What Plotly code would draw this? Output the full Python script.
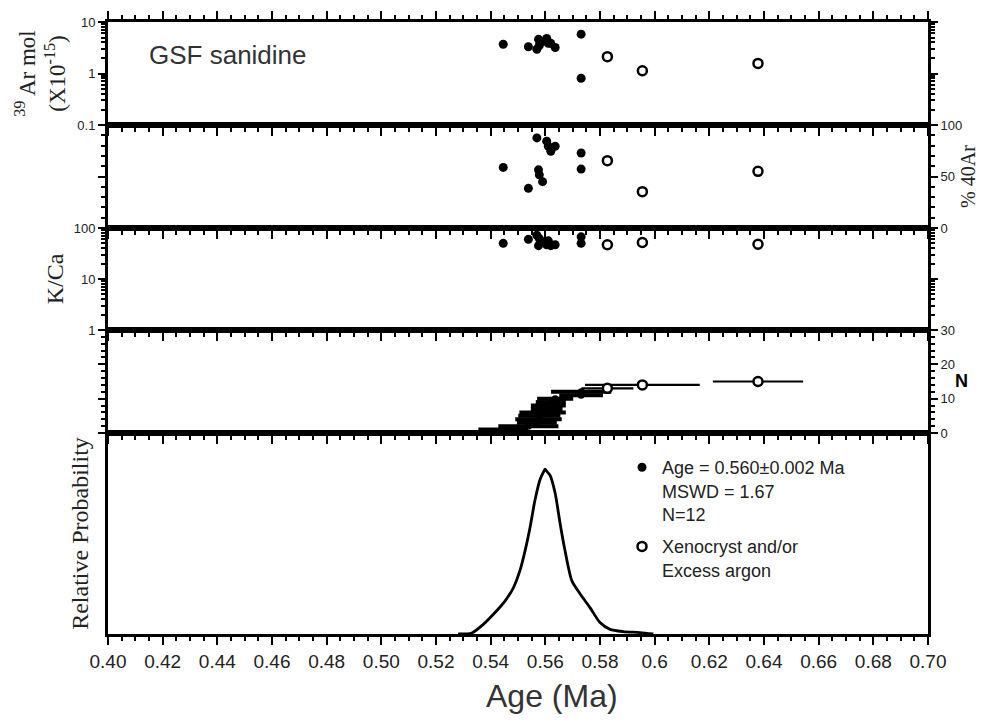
import plotly.graph_objects as go

# ---------------- data ----------------
# filled symbols: analyses used in the weighted-mean age (N=12)
ages_filled = [0.5446, 0.5538, 0.5569, 0.5575, 0.5578, 0.5590, 0.5605, 0.5611, 0.5620, 0.5636, 0.5731, 0.5731]
ar39_filled = [3.7, 3.3, 2.95, 4.6, 3.5, 4.15, 4.8, 3.85, 3.85, 3.2, 5.8, 0.81]
pct40_filled = [58.8, 38.5, 87.5, 56.5, 51.6, 45.0, 84.3, 79.4, 74.5, 79.4, 72.8, 57.2]
kca_filled = [50, 60, 72, 45, 62, 54, 47, 56, 45, 47, 67, 50]
err_filled = [0.0091, 0.0110, 0.0073, 0.0085, 0.0077, 0.0085, 0.0058, 0.0064, 0.0055, 0.0066, 0.0080, 0.0110]
rank_filled = [1, 2, 3, 4, 5, 6, 7, 8, 9, 10, 11, 12]

# open symbols: xenocrysts and/or excess argon
ages_open = [0.5827, 0.5955, 0.6378]
ar39_open = [2.12, 1.13, 1.57]
pct40_open = [65.4, 35.3, 55.0]
kca_open = [47, 52, 48]
err_open = [0.0095, 0.0210, 0.0165]
rank_open = [13, 14, 15]

# relative probability curve
prob_age = [0.5281, 0.5331, 0.5373, 0.5410, 0.5453, 0.5483, 0.5507, 0.5526, 0.5544, 0.5562,
            0.5581, 0.5593, 0.5599, 0.5605, 0.5617, 0.5636, 0.5654, 0.5672, 0.5697, 0.5727,
            0.5764, 0.5800, 0.5837, 0.5885, 0.5946, 0.5995]
prob_val = [0.0, 0.005, 0.048, 0.098, 0.165, 0.23, 0.315, 0.415, 0.53, 0.665,
            0.77, 0.805, 0.82, 0.81, 0.79, 0.70, 0.55, 0.415, 0.265, 0.20,
            0.13, 0.057, 0.023, 0.012, 0.007, 0.0]

x_tickvals = [0.40, 0.42, 0.44, 0.46, 0.48, 0.50, 0.52, 0.54, 0.56, 0.58, 0.60, 0.62, 0.64, 0.66, 0.68, 0.70]
x_ticktext = ["0.40", "0.42", "0.44", "0.46", "0.48", "0.50", "0.52", "0.54", "0.56", "0.58", "0.6",
              "0.62", "0.64", "0.66", "0.68", "0.70"]

legend_filled = "Age = 0.560±0.002 Ma<br>MSWD = 1.67<br>N=12"
legend_open = "Xenocryst and/or<br>Excess argon"

# ---------------- layout helpers ----------------
# page body adds an 8 px margin, so the figure is laid out in screen pixels minus 8
OFF = 8
W, H = 987 - 2 * OFF, 724 - 2 * OFF
SX0, SX1 = 108, 928                      # plot area left/right (screen px)
bounds = [22, 125, 228, 330, 433, 634]   # panel borders (screen px)
ML = SX0 - OFF
MR = W - (SX1 - OFF)
MT = bounds[0] - OFF
MB = H - (bounds[-1] - OFF)
PH = bounds[-1] - bounds[0]
PW = SX1 - SX0


def dom(i):
    top, bot = bounds[i], bounds[i + 1]
    return [(bounds[-1] - bot) / PH, (bounds[-1] - top) / PH]


def px(sx):
    return (sx - SX0) / PW


def py(sy):
    return (bounds[-1] - sy) / PH


SANS = "Liberation Sans, Arial, sans-serif"
SERIF = "Liberation Serif, Times New Roman, serif"
TXT = "#222"

fig = go.Figure()

filled_marker = dict(color="black", size=9, symbol="circle")
open_marker = dict(color="white", size=9, symbol="circle", line=dict(color="black", width=2.5))

# panel 1: 39Ar mol
fig.add_trace(go.Scatter(x=ages_filled, y=ar39_filled, mode="markers", marker=filled_marker,
                         xaxis="x", yaxis="y", name=legend_filled, legendgroup="a"))
fig.add_trace(go.Scatter(x=ages_open, y=ar39_open, mode="markers", marker=open_marker,
                         xaxis="x", yaxis="y", name=legend_open, legendgroup="b"))
# panel 2: % 40Ar
fig.add_trace(go.Scatter(x=ages_filled, y=pct40_filled, mode="markers", marker=filled_marker,
                         xaxis="x2", yaxis="y2", showlegend=False))
fig.add_trace(go.Scatter(x=ages_open, y=pct40_open, mode="markers", marker=open_marker,
                         xaxis="x2", yaxis="y2", showlegend=False))
# panel 3: K/Ca
fig.add_trace(go.Scatter(x=ages_filled, y=kca_filled, mode="markers", marker=filled_marker,
                         xaxis="x3", yaxis="y3", showlegend=False))
fig.add_trace(go.Scatter(x=ages_open, y=kca_open, mode="markers", marker=open_marker,
                         xaxis="x3", yaxis="y3", showlegend=False))
# panel 4: cumulative N with age errors
fig.add_trace(go.Scatter(x=ages_filled, y=rank_filled, mode="markers",
                         marker=dict(color="black", size=7),
                         error_x=dict(type="data", array=err_filled, thickness=4, width=0, color="black"),
                         xaxis="x4", yaxis="y4", showlegend=False))
fig.add_trace(go.Scatter(x=ages_open, y=rank_open, mode="markers", marker=open_marker,
                         error_x=dict(type="data", array=err_open, thickness=2.2, width=0, color="black"),
                         xaxis="x4", yaxis="y4", showlegend=False))
# panel 5: relative probability
fig.add_trace(go.Scatter(x=prob_age, y=prob_val, mode="lines",
                         line=dict(color="black", width=2.8, shape="spline", smoothing=0.7),
                         xaxis="x5", yaxis="y5", showlegend=False))

xbase = dict(range=[0.40, 0.70], showline=True, linewidth=3, linecolor="black",
             ticks="outside", ticklen=8, tickwidth=2, tickcolor="black",
             tickmode="array", tickvals=x_tickvals, ticktext=x_ticktext,
             minor=dict(ticks="outside", ticklen=4, tickwidth=1.5, tickcolor="black",
                        tick0=0.40, dtick=0.005, showgrid=False),
             showgrid=False, zeroline=False, mirror=True, showticklabels=False,
             automargin=False,
             tickfont=dict(family=SANS, size=19, color=TXT))

layout = dict(width=W, height=H, margin=dict(l=ML, r=MR, t=MT, b=MB, autoexpand=False),
              plot_bgcolor="white", paper_bgcolor="white", showlegend=True)

for i in range(5):
    name = "xaxis" if i == 0 else f"xaxis{i + 1}"
    ax = dict(xbase)
    ax["anchor"] = "y" if i == 0 else f"y{i + 1}"
    if i > 0:
        ax["matches"] = "x"
    if i == 0:
        ax["mirror"] = "ticks"
    if i == 4:
        ax["showticklabels"] = True
    layout[name] = ax

ybase = dict(showline=True, linewidth=3, linecolor="black", ticks="outside", ticklen=7,
             tickwidth=2, tickcolor="black", showgrid=False, zeroline=False, automargin=False,
             tickfont=dict(family=SANS, size=13, color=TXT))

layout["yaxis"] = dict(ybase, type="log", range=[-1, 1], domain=dom(0), anchor="x", side="left",
                       mirror="ticks", tickmode="array", tickvals=[0.1, 1, 10], ticktext=["0.1", "1", "10"],
                       minor=dict(ticks="outside", ticklen=4, tickwidth=1.5, tickcolor="black", dtick="D1"),
                       title=dict(text="<sup>39</sup> Ar mol<br>(X10<sup>-15</sup>)",
                                  font=dict(family=SERIF, size=23, color=TXT), standoff=6))
layout["yaxis2"] = dict(ybase, range=[0, 100], domain=dom(1), anchor="x2", side="right",
                        mirror="ticks", tickmode="array", tickvals=[0, 50, 100],
                        minor=dict(ticks="outside", ticklen=4, tickwidth=1.5, tickcolor="black",
                                   tick0=0, dtick=10),
                        title=dict(text="% 40Ar", font=dict(family=SERIF, size=20, color=TXT), standoff=0))
layout["yaxis3"] = dict(ybase, type="log", range=[0, 2], domain=dom(2), anchor="x3", side="left",
                        mirror="ticks", tickmode="array", tickvals=[1, 10, 100], ticktext=["1", "10", "100"],
                        minor=dict(ticks="outside", ticklen=4, tickwidth=1.5, tickcolor="black", dtick="D1"),
                        title=dict(text="K/Ca", font=dict(family=SERIF, size=24, color=TXT), standoff=4))
layout["yaxis4"] = dict(ybase, range=[0, 30], domain=dom(3), anchor="x4", side="right",
                        mirror="ticks", tickmode="array", tickvals=[0, 10, 20, 30],
                        minor=dict(ticks="outside", ticklen=4, tickwidth=1.5, tickcolor="black",
                                   tick0=0, dtick=2))
layout["yaxis5"] = dict(showline=True, linewidth=3, linecolor="black", mirror=True, ticks="",
                        showticklabels=False, showgrid=False, zeroline=False, automargin=False,
                        range=[0, 1], domain=dom(4), anchor="x5",
                        title=dict(text="Relative Probability", font=dict(family=SERIF, size=24, color=TXT),
                                   standoff=10))

layout["legend"] = dict(x=px(622), y=py(449),
                        xanchor="left", yanchor="top", bgcolor="rgba(0,0,0,0)",
                        font=dict(family=SANS, size=18, color=TXT), valign="top",
                        tracegroupgap=6, itemwidth=30)

layout["annotations"] = [
    dict(text="GSF sanidine", x=px(228), y=py(55),
         xref="paper", yref="paper", showarrow=False, xanchor="center", yanchor="middle",
         font=dict(family=SANS, size=26, color="#333")),
    dict(text="<b>N</b>", x=px(961), y=py(381),
         xref="paper", yref="paper", showarrow=False, xanchor="center", yanchor="middle",
         font=dict(family=SANS, size=18, color="black")),
    dict(text="Age (Ma)", x=px(552), y=py(696),
         xref="paper", yref="paper", showarrow=False, xanchor="center", yanchor="middle",
         font=dict(family=SANS, size=32, color="#333")),
]

fig.update_layout(**layout)
fig.write_html("out.html")
